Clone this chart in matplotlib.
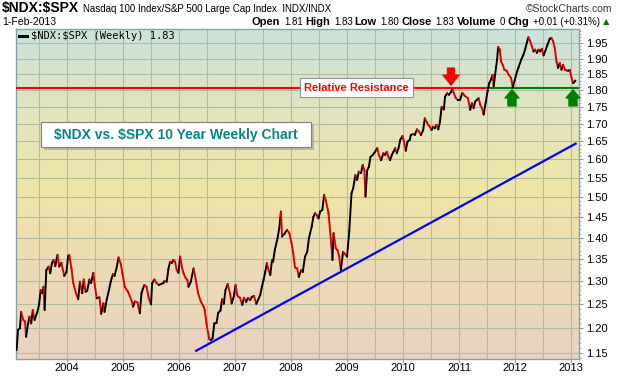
import numpy as np
import matplotlib
matplotlib.use("Agg")
import matplotlib.pyplot as plt
from matplotlib.collections import LineCollection
from matplotlib.colors import LinearSegmentedColormap
from matplotlib.patches import Rectangle
from matplotlib import font_manager

# ---------------- data ----------------
dates = [2003.10, 2003.125, 2003.16, 2003.18, 2003.22, 2003.25, 2003.27, 2003.30, 2003.33, 2003.36,
         2003.39, 2003.42, 2003.47, 2003.50, 2003.53, 2003.56, 2003.58, 2003.60, 2003.63, 2003.67,
         2003.70, 2003.73, 2003.76, 2003.79, 2003.83, 2003.86, 2003.90, 2003.95, 2003.99, 2004.02,
         2004.04, 2004.08, 2004.11, 2004.16, 2004.20, 2004.23, 2004.27, 2004.30, 2004.33, 2004.36,
         2004.40, 2004.43, 2004.47, 2004.50, 2004.53, 2004.58, 2004.61, 2004.65, 2004.67, 2004.71,
         2004.75, 2004.78, 2004.82, 2004.85, 2004.89, 2004.92, 2004.96, 2004.99, 2005.03, 2005.09,
         2005.16, 2005.18, 2005.21, 2005.26, 2005.30, 2005.33, 2005.38, 2005.42, 2005.46, 2005.50,
         2005.52, 2005.56, 2005.60, 2005.64, 2005.72, 2005.74, 2005.78, 2005.81, 2005.84, 2005.87,
         2005.90, 2005.93, 2005.96, 2005.99, 2006.02, 2006.05, 2006.08, 2006.12, 2006.15, 2006.17,
         2006.21, 2006.26, 2006.30, 2006.34, 2006.39, 2006.44, 2006.46, 2006.49, 2006.54, 2006.57,
         2006.60, 2006.63, 2006.67, 2006.70, 2006.74, 2006.77, 2006.80, 2006.83, 2006.87, 2006.91,
         2006.94, 2006.98, 2007.01, 2007.04, 2007.06, 2007.09, 2007.13, 2007.16, 2007.20, 2007.23,
         2007.27, 2007.30, 2007.34, 2007.38, 2007.41, 2007.45, 2007.48, 2007.51, 2007.54, 2007.57,
         2007.60, 2007.63, 2007.66, 2007.68, 2007.71, 2007.76, 2007.79, 2007.82, 2007.84, 2007.89,
         2007.93, 2007.97, 2008.01, 2008.04, 2008.07, 2008.11, 2008.14, 2008.18, 2008.21, 2008.25,
         2008.29, 2008.32, 2008.37, 2008.40, 2008.43, 2008.46, 2008.49, 2008.52, 2008.56, 2008.59,
         2008.62, 2008.67, 2008.70, 2008.74, 2008.76, 2008.80, 2008.83, 2008.86, 2008.89, 2008.93,
         2008.96, 2009.00, 2009.04, 2009.08, 2009.11, 2009.15, 2009.18, 2009.21, 2009.25, 2009.28,
         2009.31, 2009.33, 2009.36, 2009.39, 2009.42, 2009.46, 2009.50, 2009.54, 2009.57, 2009.61,
         2009.65, 2009.68, 2009.71, 2009.74, 2009.77, 2009.80, 2009.83, 2009.86, 2009.89, 2009.92,
         2009.95, 2009.99, 2010.01, 2010.05, 2010.08, 2010.12, 2010.14, 2010.18, 2010.21, 2010.25,
         2010.29, 2010.32, 2010.36, 2010.39, 2010.42, 2010.45, 2010.48, 2010.51, 2010.54, 2010.57,
         2010.60, 2010.63, 2010.66, 2010.69, 2010.73, 2010.75, 2010.79, 2010.82, 2010.86, 2010.88,
         2010.91, 2010.94, 2010.98, 2011.02, 2011.06, 2011.11, 2011.16, 2011.20, 2011.23, 2011.26,
         2011.29, 2011.32, 2011.35, 2011.38, 2011.41, 2011.44, 2011.48, 2011.51, 2011.54, 2011.57,
         2011.60, 2011.62, 2011.66, 2011.68, 2011.70, 2011.73, 2011.75, 2011.78, 2011.81, 2011.85,
         2011.89, 2011.93, 2011.96, 2011.99, 2012.02, 2012.06, 2012.11, 2012.15, 2012.18, 2012.21,
         2012.24, 2012.27, 2012.30, 2012.33, 2012.36, 2012.39, 2012.42, 2012.45, 2012.48, 2012.51,
         2012.55, 2012.58, 2012.62, 2012.65, 2012.68, 2012.71, 2012.74, 2012.77, 2012.80, 2012.83,
         2012.86, 2012.89, 2012.92, 2012.95, 2012.98, 2013.01, 2013.04, 2013.08]

ratio = [1.156, 1.197, 1.200, 1.234, 1.217, 1.214, 1.183, 1.207, 1.224, 1.210,
         1.238, 1.217, 1.234, 1.249, 1.281, 1.274, 1.288, 1.238, 1.325, 1.333,
         1.318, 1.341, 1.348, 1.334, 1.360, 1.333, 1.342, 1.312, 1.321, 1.357,
         1.360, 1.329, 1.297, 1.274, 1.261, 1.299, 1.274, 1.304, 1.277, 1.279,
         1.304, 1.296, 1.319, 1.288, 1.263, 1.265, 1.230, 1.252, 1.234, 1.261,
         1.281, 1.299, 1.316, 1.312, 1.333, 1.354, 1.339, 1.318, 1.288, 1.277,
         1.256, 1.245, 1.256, 1.254, 1.231, 1.274, 1.292, 1.288, 1.263, 1.250,
         1.296, 1.304, 1.296, 1.292, 1.296, 1.301, 1.299, 1.327, 1.344, 1.341,
         1.348, 1.344, 1.325, 1.319, 1.356, 1.333, 1.318, 1.307, 1.303, 1.288,
         1.299, 1.329, 1.303, 1.274, 1.256, 1.245, 1.238, 1.210, 1.178, 1.176,
         1.180, 1.210, 1.211, 1.232, 1.237, 1.261, 1.251, 1.281, 1.294, 1.274,
         1.252, 1.268, 1.292, 1.270, 1.266, 1.264, 1.249, 1.264, 1.255, 1.264,
         1.259, 1.266, 1.268, 1.251, 1.259, 1.270, 1.288, 1.303, 1.321, 1.341,
         1.325, 1.314, 1.348, 1.344, 1.371, 1.399, 1.423, 1.464, 1.403, 1.411,
         1.419, 1.411, 1.387, 1.364, 1.331, 1.329, 1.310, 1.325, 1.321, 1.356,
         1.367, 1.399, 1.427, 1.451, 1.460, 1.455, 1.447, 1.464, 1.468, 1.506,
         1.493, 1.460, 1.415, 1.348, 1.411, 1.375, 1.371, 1.356, 1.325, 1.367,
         1.362, 1.356, 1.415, 1.510, 1.523, 1.558, 1.545, 1.567, 1.563, 1.585,
         1.571, 1.502, 1.571, 1.580, 1.607, 1.612, 1.621, 1.631, 1.612, 1.598,
         1.617, 1.612, 1.621, 1.607, 1.598, 1.612, 1.621, 1.631, 1.617, 1.631,
         1.654, 1.665, 1.654, 1.624, 1.649, 1.654, 1.668, 1.671, 1.668, 1.684,
         1.677, 1.668, 1.682, 1.716, 1.706, 1.697, 1.692, 1.682, 1.692, 1.687,
         1.697, 1.684, 1.706, 1.750, 1.742, 1.780, 1.791, 1.786, 1.795, 1.803,
         1.791, 1.777, 1.770, 1.771, 1.792, 1.782, 1.776, 1.741, 1.761, 1.746,
         1.766, 1.771, 1.776, 1.756, 1.746, 1.727, 1.766, 1.797, 1.822, 1.833,
         1.848, 1.812, 1.870, 1.896, 1.938, 1.929, 1.891, 1.880, 1.864, 1.861,
         1.848, 1.838, 1.809, 1.828, 1.848, 1.870, 1.896, 1.912, 1.929, 1.951,
         1.970, 1.957, 1.940, 1.923, 1.929, 1.918, 1.929, 1.923, 1.932, 1.910,
         1.929, 1.945, 1.965, 1.968, 1.957, 1.934, 1.891, 1.870, 1.886, 1.864,
         1.880, 1.864, 1.862, 1.861, 1.863, 1.838, 1.822, 1.830]

resistance_level = 1.808
resistance_break = 2011.536
trend_dates = [2006.29, 2013.10]
trend_values = [1.154, 1.645]
sell_arrow = (2010.857, 1.816)
buy_arrows = [(2011.946, 1.801), (2013.036, 1.801)]
year_ticks = list(range(2004, 2014))
y_ticks = [1.15, 1.20, 1.25, 1.30, 1.35, 1.40, 1.45, 1.50, 1.55, 1.60, 1.65, 1.70, 1.75, 1.80, 1.85, 1.90, 1.95]

# ---------------- fonts ----------------
names = {f.name for f in font_manager.fontManager.ttflist}
NARROW = 'Liberation Sans Narrow' if 'Liberation Sans Narrow' in names else 'Liberation Sans'
IS_NARROW = NARROW == 'Liberation Sans Narrow'
SANS = 'Liberation Sans'
MONO = 'DejaVu Sans Mono'

W, H = 620, 376
fig = plt.figure(figsize=(W / 100, H / 100), dpi=100)
fig.patch.set_facecolor('white')

def fx(px):
    return px / W

def fy(py):
    return 1 - py / H

L, R, T, B = 16, 579, 29, 359
rect = [fx(L), fy(B), fx(R) - fx(L), fy(T) - fy(B)]

# background gradient
bg = fig.add_axes(rect, zorder=0)
cmap = LinearSegmentedColormap.from_list('bg', [
    (0.0, '#ead2c0'), (0.30, '#ecdcb4'), (0.52, '#f0e6a8'), (0.78, '#dfe4c2'), (1.0, '#cbe2dc')])
grad = np.linspace(0, 1, 256).reshape(-1, 1)
bg.imshow(grad, aspect='auto', cmap=cmap, origin='lower', extent=[0, 1, 0, 1])
bg.axis('off')

ax = fig.add_axes(rect, zorder=1)
ax.set_facecolor('none')
ax.set_yscale('log')
ax.set_xlim(2003.089, 2013.143)
ax.set_ylim(1.1389, 1.998)

ax.set_xticks(year_ticks)
ax.set_xticks([y + 0.5 for y in range(2003, 2013)], minor=True)
ax.set_xticklabels([str(y) for y in year_ticks])
ax.set_yticks(y_ticks)
ax.set_yticklabels([f'{v:.2f}' for v in y_ticks])
ax.set_yticks([v / 100 for v in range(114, 200)], minor=True)
ax.yaxis.set_minor_formatter(matplotlib.ticker.NullFormatter())
ax.yaxis.tick_right()
ax.tick_params(axis='y', which='major', length=3, color='#8aa0a8', labelsize=8, pad=2)
ax.tick_params(axis='y', which='minor', length=1.5, color='#8aa0a8')
ax.tick_params(axis='x', which='major', length=2, color='#8aa0a8', labelsize=8, pad=1)
ax.tick_params(axis='x', which='minor', length=0)
for lab in ax.get_xticklabels() + ax.get_yticklabels():
    lab.set_fontfamily(SANS)
ax.xaxis.grid(True, which='both', color='#b3bba3', lw=0.8)
ax.yaxis.grid(True, which='major', color='#b3bba3', lw=0.8)
ax.set_axisbelow(True)
for s in ax.spines.values():
    s.set_color('#8aa0a8')
    s.set_linewidth(1.0)

# price line coloured by direction
pts = np.column_stack([dates, ratio])
segs = np.stack([pts[:-1], pts[1:]], axis=1)
cols = ['#e00000' if ratio[i + 1] < ratio[i] else 'black' for i in range(len(ratio) - 1)]
lc = LineCollection(segs, colors=cols, linewidths=1.4, capstyle='round', joinstyle='round', zorder=4)
ax.add_collection(lc)

# resistance / support line
ax.plot([2003.089, resistance_break], [resistance_level] * 2, color='#ff0000', lw=1.5, zorder=3)
ax.plot([resistance_break, 2013.143], [resistance_level] * 2, color='#008000', lw=1.5, zorder=3)

# trend line
ax.plot(trend_dates, trend_values, color='#0000ff', lw=1.6, zorder=3, solid_capstyle='butt')

# arrows
ax.annotate('', xy=sell_arrow, xytext=(0, 12.2), textcoords='offset points',
            arrowprops=dict(arrowstyle='simple,head_width=11.5,head_length=7.2,tail_width=5',
                            mutation_scale=1, color='#ff0000', shrinkA=0, shrinkB=0), zorder=6)
for pos in buy_arrows:
    ax.annotate('', xy=pos, xytext=(0, -11.5), textcoords='offset points',
                arrowprops=dict(arrowstyle='simple,head_width=10,head_length=5.8,tail_width=5.8',
                                mutation_scale=1, color='#008000', shrinkA=0, shrinkB=0), zorder=6)

# Relative Resistance label
fig.patches.append(Rectangle((fx(299.5), fy(96.7)), fx(412.7) - fx(299.5), fy(78.3) - fy(96.7),
                             transform=fig.transFigure, facecolor='white', edgecolor='#909090',
                             lw=0.8, zorder=5))
fig.text(fx(356), fy(87.8), 'Relative Resistance', ha='center', va='center', color='#ff0000',
         fontsize=8, fontweight='bold', family=SANS, zorder=6)

# title box with shadow
fig.patches.append(Rectangle((fx(44), fy(149.5)), fx(311.3) - fx(41.3), fy(122.3) - fy(146.7),
                             transform=fig.transFigure, facecolor='#9a9a9a', edgecolor='none',
                             alpha=0.6, zorder=5))
fig.patches.append(Rectangle((fx(41.3), fy(146.7)), fx(311.3) - fx(41.3), fy(122.3) - fy(146.7),
                             transform=fig.transFigure, facecolor='white', edgecolor='#808080',
                             lw=0.8, zorder=5))
fig.text(fx(176.3), fy(134.5), '$NDX vs. $SPX 10 Year Weekly Chart', ha='center', va='center',
         color='#0a8585', fontsize=10, fontweight='bold', family=SANS, parse_math=False, zorder=6)

# legend
fig.add_artist(matplotlib.lines.Line2D([fx(19), fx(27)], [fy(36), fy(36)], color='black', lw=2.2,
                                       transform=fig.transFigure))
fig.text(fx(31), fy(36), '$NDX:$SPX (Weekly) 1.83', ha='left', va='center', fontsize=7.5,
         family=MONO, parse_math=False, color='black')

# header
renderer = fig.canvas.get_renderer()
sym = fig.text(fx(2), fy(8), '$NDX:$SPX', ha='left', va='center',
               fontsize=11 if IS_NARROW else 10, fontweight='bold',
               family=NARROW, parse_math=False)
x_after = 2 + sym.get_window_extent(renderer).width + 4
fig.text(fx(x_after), fy(8.5), 'Nasdaq 100 Index/S&P 500 Large Cap Index  INDX/INDX', ha='left',
         va='center', fontsize=8 if IS_NARROW else 7, family=NARROW, parse_math=False)
fig.text(fx(612), fy(8.5), '\u00a9StockCharts.com', ha='right', va='center',
         fontsize=8 if IS_NARROW else 7.5, family=NARROW, color='#333333')
fig.text(fx(2), fy(22), '1-Feb-2013', ha='left', va='center',
         fontsize=8 if IS_NARROW else 7.5, family=NARROW)

pieces = [('Open', True), ('1.81', False), ('High', True), ('1.83', False), ('Low', True),
          ('1.80', False), ('Close', True), ('1.83', False), ('Volume', True), ('0', False),
          ('Chg', True), ('+0.01 (+0.31%)', False)]
xr = 600
for i, (s, bold) in enumerate(reversed(pieces)):
    if IS_NARROW:
        fs = 8.5 if bold else 8
    else:
        fs = 8 if bold else 7
    t = fig.text(fx(xr), fy(22), s, ha='right', va='center', fontsize=fs,
                 fontweight='bold' if bold else 'normal', family=NARROW)
    w = t.get_window_extent(renderer).width
    gap = 2 if bold else 4
    xr -= w + gap
fig.text(fx(606.5), fy(22), '\u25b2', ha='center', va='center', fontsize=6, color='#008000',
         family='DejaVu Sans')

fig.savefig('out.png', dpi=100)
